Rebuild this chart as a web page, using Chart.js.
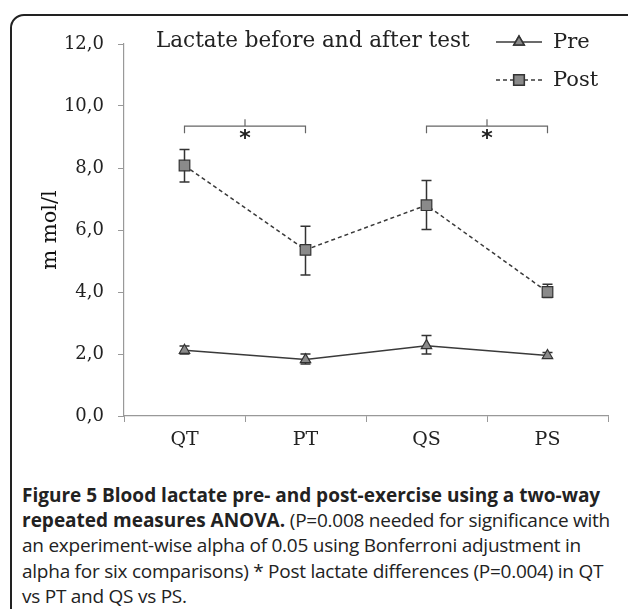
<!DOCTYPE html>
<html>
<head>
<meta charset="utf-8">
<script src="https://cdn.jsdelivr.net/npm/chart.js@4.4.1/dist/chart.umd.min.js"></script>
<style>
    html, body { margin: 0; padding: 0; background: #fff; }
    body { width: 628px; height: 609px; position: relative; overflow: hidden; }
    #frame {
        position: absolute; left: 10px; top: 14px; width: 660px; height: 640px;
        border: 2px solid #222; border-radius: 14px; box-sizing: border-box;
    }
    #chartBox { position: absolute; left: 0; top: 0; width: 628px; height: 470px; }
    #title {
        position: absolute; left: 156px; top: 27px; white-space: nowrap;
        font-family: 'DejaVu Serif', serif; font-size: 21.5px; color: #222;
    }
    .legendText {
        position: absolute; left: 553px; white-space: nowrap;
        font-family: 'DejaVu Serif', serif; font-size: 21px; color: #222;
    }
    #caption {
        position: absolute; left: 22px; top: 483px; white-space: nowrap;
        font-family: 'Open Sans', sans-serif; font-size: 19px; line-height: 25.2px; color: #222;
        letter-spacing: -0.25px;
    }
    #caption b { font-weight: 700; letter-spacing: 0; }
</style>
</head>
<body>
<div id="frame"></div>
<div id="chartBox"><canvas id="lactateChart" width="628" height="470"></canvas></div>
<div id="title">Lactate before and after test</div>
<div class="legendText" style="top:29px">Pre</div>
<div class="legendText" style="top:67px">Post</div>
<div id="caption"><b>Figure 5 Blood lactate pre- and post-exercise using a two-way</b><br><b>repeated measures ANOVA.</b> (P=0.008 needed for significance with<br>an experiment-wise alpha of 0.05 using Bonferroni adjustment in<br>alpha for six comparisons) * Post lactate differences (P=0.004) in QT<br>vs PT and QS vs PS.</div>

<script>
// Data
const categories = ['QT', 'PT', 'QS', 'PS'];

const preValues = [2.12, 1.82, 2.27, 1.95];
const preErrLow = [2.0, 1.68, 2.0, 1.86];
const preErrHigh = [2.26, 2.0, 2.6, 2.05];

const postValues = [8.08, 5.36, 6.8, 4.0];
const postErrLow = [7.55, 4.55, 6.02, 3.82];
const postErrHigh = [8.6, 6.12, 7.6, 4.25];

const yTickMin = 0;
const yTickMax = 12;
const yTickStep = 2;

// significance brackets: category index pairs and level
const bracketFrom = [0, 2];
const bracketTo = [1, 3];
const bracketLevel = [9.35, 9.35];
const bracketMark = ['*', '*'];

const lineColor = '#3a3a3a';
const markerFill = '#8a8a8a';

// Error bars
const errorBarPlugin = {
    id: 'errorBars',
    beforeDatasetsDraw(chart) {
        const ctx = chart.ctx;
        const x = chart.scales.x;
        const y = chart.scales.y;
        const sets = [[preErrLow, preErrHigh], [postErrLow, postErrHigh]];
        ctx.save();
        ctx.strokeStyle = '#333';
        ctx.lineWidth = 1.5;
        sets.forEach(([lo, hi]) => {
            categories.forEach((c, i) => {
                const px = x.getPixelForValue(i);
                const y1 = y.getPixelForValue(lo[i]);
                const y2 = y.getPixelForValue(hi[i]);
                ctx.beginPath();
                ctx.moveTo(px, y1); ctx.lineTo(px, y2);
                ctx.moveTo(px - 5, y1); ctx.lineTo(px + 5, y1);
                ctx.moveTo(px - 5, y2); ctx.lineTo(px + 5, y2);
                ctx.stroke();
            });
        });
        ctx.restore();
    }
};

// Significance brackets
const bracketPlugin = {
    id: 'brackets',
    afterDatasetsDraw(chart) {
        const ctx = chart.ctx;
        const x = chart.scales.x;
        const y = chart.scales.y;
        ctx.save();
        ctx.strokeStyle = '#666';
        ctx.lineWidth = 1.2;
        bracketFrom.forEach((f, i) => {
            const x1 = x.getPixelForValue(f);
            const x2 = x.getPixelForValue(bracketTo[i]);
            const py = y.getPixelForValue(bracketLevel[i]);
            const mid = (x1 + x2) / 2;
            ctx.beginPath();
            ctx.moveTo(x1, py + 7); ctx.lineTo(x1, py); ctx.lineTo(x2, py); ctx.lineTo(x2, py + 7);
            ctx.moveTo(mid, py); ctx.lineTo(mid, py - 7);
            ctx.stroke();
            ctx.fillStyle = '#222';
            ctx.font = 'bold 22px "DejaVu Sans", sans-serif';
            ctx.textAlign = 'center';
            ctx.textBaseline = 'top';
            ctx.fillText(bracketMark[i], mid, py + 2);
        });
        ctx.restore();
    }
};

// Legend samples (line + marker)
const legendPlugin = {
    id: 'legendSamples',
    afterDraw(chart) {
        const ctx = chart.ctx;
        const rows = [42, 80];
        chart.data.datasets.forEach((ds, i) => {
            const ry = rows[i];
            ctx.save();
            ctx.strokeStyle = ds.borderColor;
            ctx.lineWidth = ds.borderWidth;
            ctx.setLineDash(ds.borderDash || []);
            ctx.beginPath();
            ctx.moveTo(496, ry); ctx.lineTo(542, ry);
            ctx.stroke();
            ctx.setLineDash([]);
            Chart.helpers.drawPoint(ctx, {
                pointStyle: ds.pointStyle,
                radius: ds.pointRadius,
                borderWidth: ds.pointBorderWidth
            }, 519, ry);
            ctx.fillStyle = markerFill;
            ctx.strokeStyle = '#333';
            ctx.fill();
            ctx.stroke();
            ctx.restore();
        });
    }
};

new Chart(document.getElementById('lactateChart'), {
    type: 'line',
    data: {
        labels: categories,
        datasets: [
            {
                label: 'Pre',
                data: preValues,
                borderColor: lineColor,
                borderWidth: 1.5,
                pointStyle: 'triangle',
                pointRadius: 6,
                pointBorderWidth: 1.2,
                pointBackgroundColor: markerFill,
                pointBorderColor: '#333',
                tension: 0
            },
            {
                label: 'Post',
                data: postValues,
                borderColor: lineColor,
                borderWidth: 1.5,
                borderDash: [4, 3],
                pointStyle: 'rect',
                pointRadius: 7.5,
                pointBorderWidth: 1.2,
                pointBackgroundColor: markerFill,
                pointBorderColor: '#333',
                tension: 0
            }
        ]
    },
    options: {
        responsive: false,
        animation: false,
        layout: { padding: { left: 38, top: 44, right: 20, bottom: 0 } },
        plugins: {
            legend: { display: false },
            title: { display: false },
            tooltip: { enabled: false }
        },
        scales: {
            x: {
                offset: true,
                afterFit: (s) => { s.height = 54; },
                grid: { display: true, offset: true, drawOnChartArea: false, drawTicks: true, tickLength: 6, color: '#999' },
                border: { display: true, color: '#999', width: 1.2 },
                ticks: { color: '#222', padding: 7, font: { family: 'DejaVu Serif', size: 19 } }
            },
            y: {
                min: yTickMin,
                max: yTickMax,
                afterFit: (s) => { s.width = 86; },
                grid: { display: true, drawOnChartArea: false, drawTicks: true, tickLength: 6, color: '#999' },
                border: { display: true, color: '#999', width: 1.2 },
                ticks: {
                    stepSize: yTickStep,
                    color: '#222',
                    padding: 14,
                    font: { family: 'DejaVu Serif', size: 18 },
                    callback: (v) => v.toFixed(1).replace('.', ',')
                },
                title: {
                    display: true,
                    text: 'm mol/l',
                    color: '#111',
                    padding: { top: 0, bottom: 0 },
                    font: { family: 'DejaVu Serif', size: 21 }
                }
            }
        }
    },
    plugins: [errorBarPlugin, bracketPlugin, legendPlugin]
});
</script>
</body>
</html>
